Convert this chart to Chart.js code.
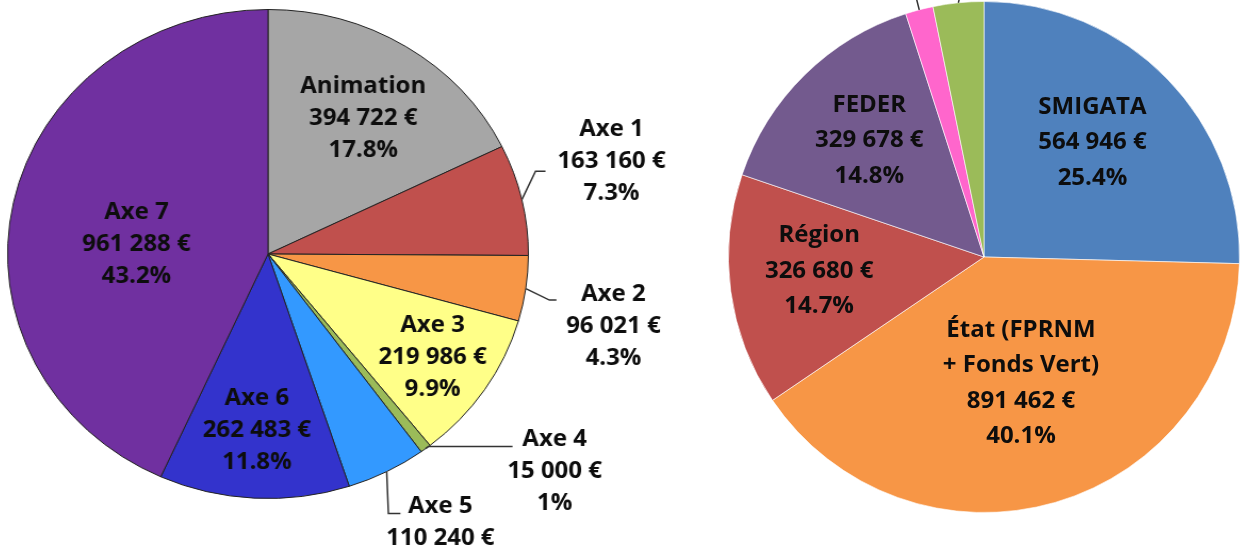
<!DOCTYPE html>
<html lang="fr">
<head>
<meta charset="UTF-8">
<title>Répartition des dépenses et des financements</title>
<script src="https://cdn.jsdelivr.net/npm/chart.js"></script>
<style>
  body { margin: 0; background: #fff; width: 1242px; height: 554px; overflow: hidden; position: relative; }
  .graf { position: absolute; top: 0; height: 554px; }
  /* le camembert de gauche est un peu étiré en largeur sur l'original */
  #g_depenses { left: 0; width: 660px; transform: scaleX(1.065); transform-origin: 268px 254px; }
  #g_financeurs { left: 700px; width: 542px; }
</style>
</head>
<body>
<div class="graf" id="g_depenses"><canvas id="depenses"></canvas></div>
<div class="graf" id="g_financeurs"><canvas id="financeurs"></canvas></div>
<script>
// dépenses par poste
const postes = ['Animation', 'Axe 1', 'Axe 2', 'Axe 3', 'Axe 4', 'Axe 5', 'Axe 6', 'Axe 7'];
const montantsPostes = [394722, 163160, 96021, 219986, 15000, 110240, 262483, 961288];
const couleursPostes = ['#A6A6A6', '#C0504D', '#F79646', '#FFFF88', '#9BBB59', '#3399FF', '#3333CC', '#7030A0'];

// plan de financement (les deux derniers libellés sont hors cadre sur l'original)
const financeurs = ['SMIGATA', 'État (FPRNM\n+ Fonds Vert)', 'Région', 'FEDER', 'Autre financeur 1', 'Autre financeur 2'];
const montantsFinanceurs = [564946, 891462, 326680, 329678, 39000, 71134];
const couleursFinanceurs = ['#4F81BD', '#F79646', '#C0504D', '#735A8E', '#FF66CC', '#9BBB59'];

function fmtEuro(v) {
  return String(v).replace(/\B(?=(\d{3})+(?!\d))/g, ' ') + ' €';
}
function fmtPct(p) {
  return (p >= 1 ? p.toFixed(1) : p.toFixed(0)) + '%';
}

// étiquettes dans / autour des parts
function rotulos(cfg) {
  return {
    id: 'rotulos',
    afterDatasetsDraw(chart) {
      const ctx = chart.ctx;
      const meta = chart.getDatasetMeta(0);
      const valores = chart.data.datasets[0].data;
      const total = valores.reduce((a, b) => a + b, 0);
      ctx.save();
      ctx.font = `bold ${cfg.taille}px "Open Sans", "Liberation Sans", sans-serif`;
      ctx.fillStyle = '#0d0d0d';
      ctx.textAlign = 'center';
      ctx.textBaseline = 'middle';
      meta.data.forEach((arco, i) => {
        const pos = cfg.positions[i];
        if (!pos) return;
        const p = arco.getProps(['x', 'y', 'startAngle', 'endAngle', 'outerRadius'], true);
        const milieu = (p.startAngle + p.endAngle) / 2;
        const ux = Math.cos(milieu), uy = Math.sin(milieu);
        let cx, cy;
        if (pos.ligne) {
          const ax = p.x + ux * p.outerRadius, ay = p.y + uy * p.outerRadius;
          ctx.strokeStyle = '#333';
          ctx.lineWidth = 1.5;
          ctx.beginPath();
          ctx.moveTo(ax, ay);
          pos.ligne.forEach(q => ctx.lineTo(ax + q[0], ay + q[1]));
          ctx.stroke();
          if (!pos.texte) return;
          cx = ax + pos.texte[0];
          cy = ay + pos.texte[1];
        } else {
          cx = p.x + ux * p.outerRadius * pos.r + (pos.dx || 0);
          cy = p.y + uy * p.outerRadius * pos.r + (pos.dy || 0);
        }
        const lignes = chart.data.labels[i].split('\n')
          .concat([fmtEuro(valores[i]), fmtPct(valores[i] / total * 100)]);
        lignes.forEach((t, k) => {
          ctx.fillText(t, cx, cy + (k - (lignes.length - 1) / 2) * cfg.interligne);
        });
      });
      ctx.restore();
    }
  };
}

const graficoDepenses = new Chart(document.getElementById('depenses'), {
  type: 'pie',
  data: {
    labels: postes,
    datasets: [{
      data: montantsPostes,
      backgroundColor: couleursPostes,
      borderColor: '#222',
      borderWidth: 1,
      hoverBorderWidth: 1,
      hoverOffset: 0,
      offset: 0,
    }],
  },
  options: {
    responsive: true,
    maintainAspectRatio: false,
    animation: false,
    events: [],
    layout: { padding: { left: 23, top: 9, right: 147, bottom: 55 } },
    plugins: { legend: { display: false }, tooltip: { enabled: false } },
  },
  plugins: [rotulos({
    taille: 22.5,
    interligne: 32,
    positions: [
      { r: 0.66, dx: 4, dy: 1 },
      { ligne: [[12.8, -28.3], [22.2, -28.3]], texte: [84.2, -38.3] },
      { ligne: [[22.2, 11.5], [28.8, 11.5]], texte: [82.3, 38.5] },
      { r: 0.76 },
      { ligne: [[2.5, -2], [81.6, -2]], texte: [121.1, 23.1] },
      { ligne: [[1.6, 42], [12.9, 42]], texte: [50.4, 67.1] },
      { r: 0.72, dx: -1, dy: 1 },
      { r: 0.5, dx: -4, dy: 16 },
    ],
  })],
});

const graficoFinanceurs = new Chart(document.getElementById('financeurs'), {
  type: 'pie',
  data: {
    labels: financeurs,
    datasets: [{
      data: montantsFinanceurs,
      backgroundColor: couleursFinanceurs,
      borderColor: 'rgba(255,255,255,0.6)',
      borderWidth: 1,
      hoverBorderWidth: 1,
      hoverOffset: 0,
      offset: 0,
    }],
  },
  options: {
    responsive: true,
    maintainAspectRatio: false,
    animation: false,
    events: [],
    layout: { padding: { left: 28, top: 1, right: 2, bottom: 41 } },
    plugins: { legend: { display: false }, tooltip: { enabled: false } },
  },
  plugins: [rotulos({
    taille: 24,
    interligne: 35.5,
    positions: [
      { r: 0.62, dx: -5, dy: -4 },
      { r: 0.515 },
      { r: 0.647, dx: -1, dy: -8 },
      { r: 0.64 },
      { ligne: [[-4, -16]] },
      { ligne: [[3, -12]] },
    ],
  })],
});
</script>
</body>
</html>
